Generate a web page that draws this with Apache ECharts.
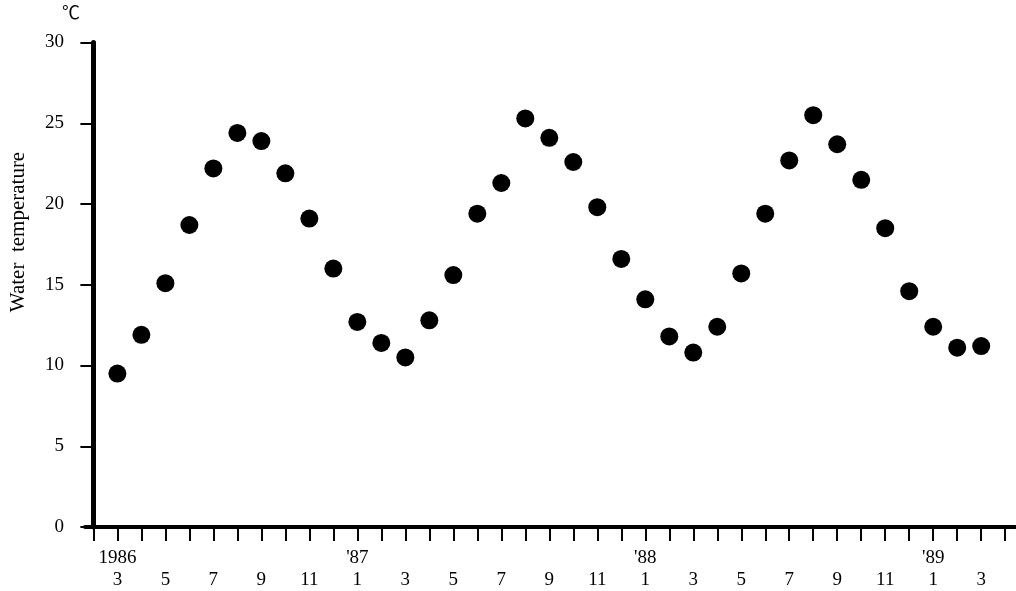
<!DOCTYPE html>
<html>
<head>
<meta charset="utf-8">
<title>Water temperature</title>
<script src="https://cdn.jsdelivr.net/npm/echarts@6/dist/echarts.min.js"></script>
<style>
  html, body { margin: 0; padding: 0; background: #fff; }
  #main { width: 1016px; height: 591px; }
</style>
</head>
<body>
<div id="main"></div>
<script>
// monthly water temperature, March 1986 - March 1989 (°C)
var temps = [9.5, 11.9, 15.1, 18.7, 22.2, 24.4, 23.9, 21.9, 19.1, 16.0,
             12.7, 11.4, 10.5, 12.8, 15.6, 19.4, 21.3, 25.3, 24.1, 22.6, 19.8, 16.6,
             14.1, 11.8, 10.8, 12.4, 15.7, 19.4, 22.7, 25.5, 23.7, 21.5, 18.5, 14.6,
             12.4, 11.1, 11.2];
// one tick per month, February 1986 - April 1989
var tickLabels = ['', '1986\n3', '', '5', '', '7', '', '9', '', '11', '',
                  "'87\n1", '', '3', '', '5', '', '7', '', '9', '', '11', '',
                  "'88\n1", '', '3', '', '5', '', '7', '', '9', '', '11', '',
                  "'89\n1", '', '3', ''];
var firstMonth = 1; // temps[0] sits on tickLabels[1]

var serif = 'Liberation Serif, DejaVu Serif, serif';

var tickValues = tickLabels.map(function (t, i) { return i; });
var labelValues = tickValues.filter(function (i) { return tickLabels[i] !== ''; });
var points = temps.map(function (v, i) { return [i + firstMonth, v]; });

var myChart = echarts.init(document.getElementById('main'));
var option = {
    animation: false,
    grid: { left: 85, right: 0, top: 42.5, bottom: 63, containLabel: false },
    xAxis: {
        type: 'value',
        min: -0.35,
        max: 38.45,
        splitLine: { show: false },
        axisLine: { show: true, lineStyle: { color: '#000', width: 4 } },
        axisTick: {
            show: true,
            customValues: tickValues,
            length: 14,
            lineStyle: { color: '#000', width: 2 }
        },
        axisLabel: {
            customValues: labelValues,
            margin: 20,
            color: '#000',
            fontFamily: serif,
            fontSize: 19,
            lineHeight: 22,
            formatter: function (v) {
                var t = tickLabels[Math.round(v)] || '';
                return t.indexOf('\n') >= 0 ? t : '\n' + t;
            }
        }
    },
    yAxis: {
        type: 'value',
        min: 0,
        max: 30,
        interval: 5,
        splitLine: { show: false },
        axisLine: { show: true, lineStyle: { color: '#000', width: 5 } },
        axisTick: { show: true, length: 13, lineStyle: { color: '#000', width: 2 } },
        axisLabel: { margin: 21, color: '#000', fontFamily: serif, fontSize: 19 }
    },
    graphic: [
        {
            type: 'text',
            x: 18, y: 232,
            rotation: Math.PI / 2,
            style: {
                text: 'Water  temperature',
                fill: '#000',
                font: '21px ' + serif,
                align: 'center',
                verticalAlign: 'middle'
            }
        },
        {
            type: 'text',
            x: 71, y: 14,
            style: {
                text: '℃',
                fill: '#000',
                font: '18px Liberation Serif, Noto Sans CJK SC, serif',
                align: 'center',
                verticalAlign: 'middle'
            }
        }
    ],
    series: [{
        name: 'Water temperature',
        type: 'scatter',
        symbol: 'circle',
        symbolSize: 18,
        itemStyle: { color: '#000', opacity: 1 },
        data: points
    }]
};
myChart.setOption(option);
</script>
</body>
</html>
